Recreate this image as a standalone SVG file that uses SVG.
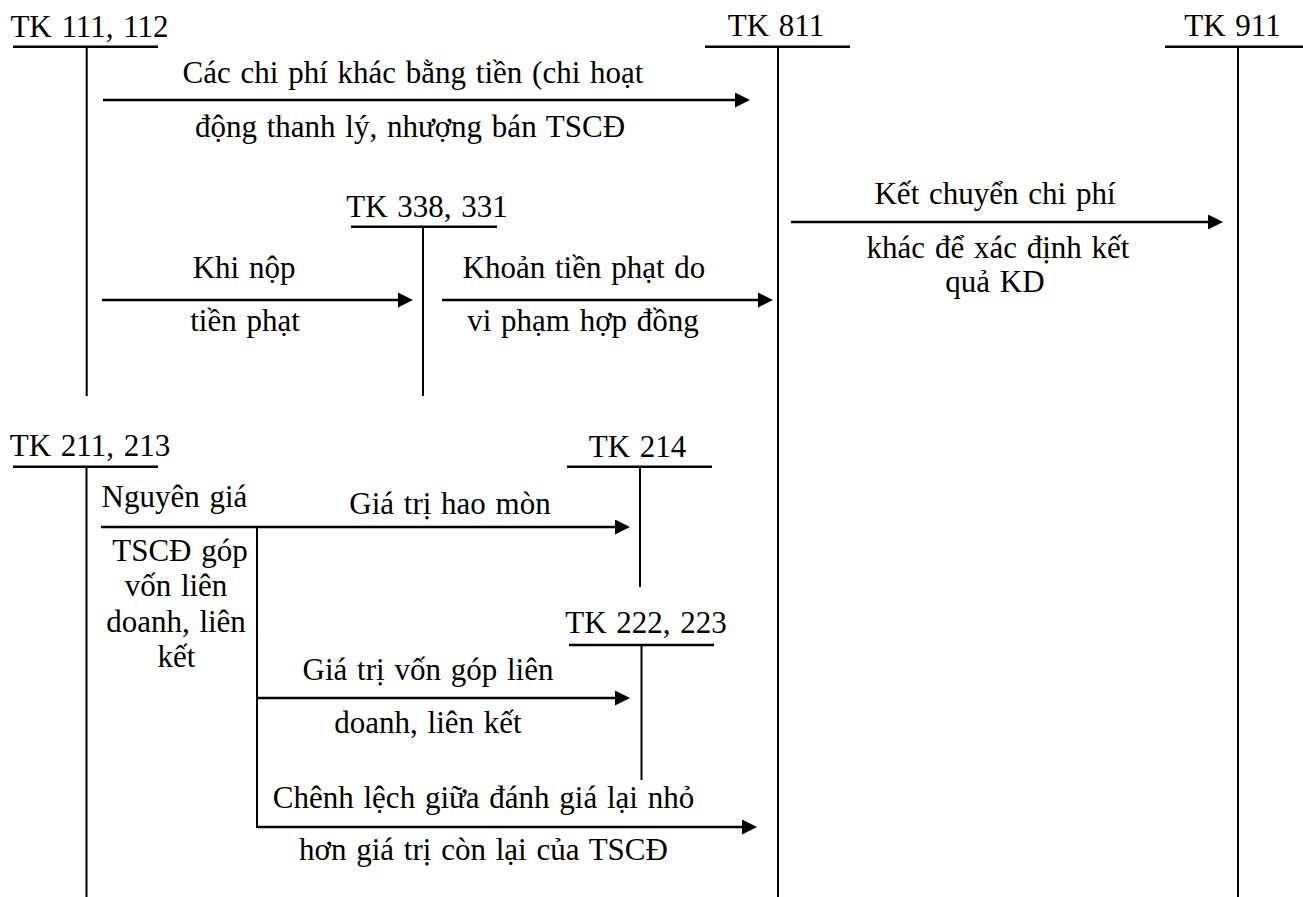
<svg xmlns="http://www.w3.org/2000/svg" width="1303" height="897" viewBox="0 0 1303 897" font-family="Liberation Serif, Tinos, Times New Roman, DejaVu Serif, serif">
<style>
text{font-size:31px;word-spacing:2px;fill:#000}
.c{text-anchor:middle}
.u{stroke:#000;stroke-width:2.5;fill:none}
.v{stroke:#000;stroke-width:2;fill:none}
.a{stroke:#000;stroke-width:2.5;fill:none;marker-end:url(#ah)}
</style>
<defs>
<marker id="ah" markerUnits="userSpaceOnUse" markerWidth="16" markerHeight="16" refX="3" refY="7.5" orient="auto">
<path d="M0,0 L15,7.5 L0,15 z" fill="#000"/>
</marker>
</defs>
<rect width="1303" height="897" fill="#fff"/>
<g id="tk111">
<text class="c" x="89.5" y="36.5">TK 111, 112</text>
<line class="u" x1="13" y1="46.7" x2="158" y2="46.7"/>
<line class="v" x1="86.7" y1="46.7" x2="86.7" y2="396"/>
</g>
<g id="tk811">
<text class="c" x="776" y="35.5">TK 811</text>
<line class="u" x1="705" y1="46.7" x2="850" y2="46.7"/>
<line class="v" x1="778" y1="46.7" x2="778" y2="897"/>
</g>
<g id="tk911">
<text class="c" x="1232.5" y="35.5">TK 911</text>
<line class="u" x1="1165" y1="46.7" x2="1303" y2="46.7"/>
<line class="v" x1="1238" y1="46.7" x2="1238" y2="897"/>
</g>
<g id="tk338">
<text class="c" x="427" y="216.7">TK 338, 331</text>
<line class="u" x1="351" y1="226.7" x2="497" y2="226.7"/>
<line class="v" x1="423" y1="226.7" x2="423" y2="396"/>
</g>
<g id="tk211">
<text class="c" x="90" y="456">TK 211, 213</text>
<line class="u" x1="13" y1="466.7" x2="158" y2="466.7"/>
<line class="v" x1="86.5" y1="466.7" x2="86.5" y2="897"/>
</g>
<g id="tk214">
<text class="c" x="637.5" y="456.7">TK 214</text>
<line class="u" x1="567" y1="466.7" x2="712" y2="466.7"/>
<line class="v" x1="640" y1="466.7" x2="640" y2="587"/>
</g>
<g id="tk222">
<text class="c" x="646" y="633">TK 222, 223</text>
<line class="u" x1="569" y1="645" x2="714" y2="645"/>
<line class="v" x1="641.5" y1="645" x2="641.5" y2="780"/>
</g>
<g id="connectors">
<line class="a" x1="103" y1="100" x2="738" y2="100"/>
<line class="a" x1="102" y1="300" x2="401" y2="300"/>
<line class="a" x1="442" y1="300" x2="761" y2="300"/>
<line class="a" x1="791" y1="222" x2="1211" y2="222"/>
<line class="a" x1="101" y1="527" x2="618" y2="527"/>
<line class="v" x1="257" y1="527" x2="257" y2="828"/>
<line class="a" x1="257" y1="698" x2="618" y2="698"/>
<line class="a" x1="257" y1="827" x2="745" y2="827"/>
</g>
<g id="labels">
<text class="c" x="413" y="83.3">Các chi phí khác bằng tiền (chi hoạt</text>
<text class="c" x="410" y="136.7">động thanh lý, nhượng bán TSCĐ</text>
<text class="c" x="244" y="278">Khi nộp</text>
<text class="c" x="245" y="331">tiền phạt</text>
<text class="c" x="584" y="278">Khoản tiền phạt do</text>
<text class="c" x="583" y="331">vi phạm hợp đồng</text>
<text class="c" x="995" y="203.5">Kết chuyển chi phí</text>
<text class="c" x="998" y="258">khác để xác định kết</text>
<text class="c" x="995" y="291.5">quả KD</text>
<text x="101.5" y="507">Nguyên giá</text>
<text class="c" x="450" y="514">Giá trị hao mòn</text>
<text class="c" x="180" y="561">TSCĐ góp</text>
<text class="c" x="176" y="596">vốn liên</text>
<text class="c" x="176" y="632">doanh, liên</text>
<text class="c" x="176.5" y="667">kết</text>
<text class="c" x="428" y="680">Giá trị vốn góp liên</text>
<text class="c" x="428" y="733">doanh, liên kết</text>
<text class="c" x="483.5" y="808">Chênh lệch giữa đánh giá lại nhỏ</text>
<text class="c" x="483.5" y="860">hơn giá trị còn lại của TSCĐ</text>
</g>
</svg>
